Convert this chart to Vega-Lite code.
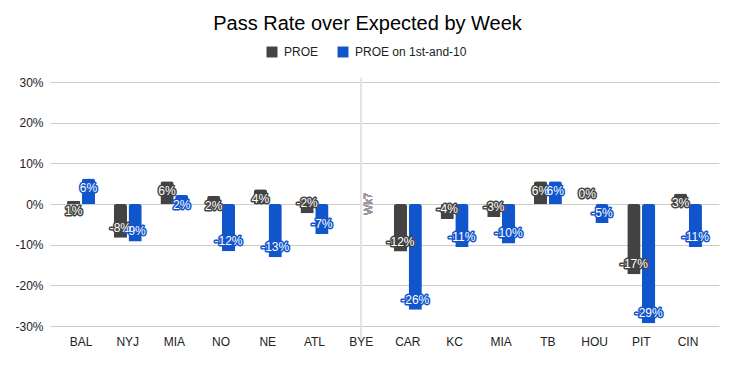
{
  "$schema": "https://vega.github.io/schema/vega-lite/v6.json",
  "width": 669,
  "height": 244,
  "autosize": {"type": "none"},
  "padding": {"left": 50, "top": 82, "right": 15, "bottom": 39},
  "config": {
    "font": "Liberation Sans",
    "view": {"stroke": null},
    "locale": {
      "number": {"decimal": ".", "thousands": ",", "grouping": [3], "currency": ["$", ""], "minus": "-"}
    }
  },
  "title": {
    "text": "Pass Rate over Expected by Week",
    "fontSize": 20,
    "fontWeight": "normal",
    "color": "#000000",
    "anchor": "middle",
    "dx": -17,
    "offset": 12
  },
  "data": {
    "values": [
      {"week": 1, "series": "PROE", "value": 0.008},
      {"week": 1, "series": "PROE on 1st-and-10", "value": 0.063},
      {"week": 2, "series": "PROE", "value": -0.083},
      {"week": 2, "series": "PROE on 1st-and-10", "value": -0.092},
      {"week": 3, "series": "PROE", "value": 0.056},
      {"week": 3, "series": "PROE on 1st-and-10", "value": 0.022},
      {"week": 4, "series": "PROE", "value": 0.02},
      {"week": 4, "series": "PROE on 1st-and-10", "value": -0.116},
      {"week": 5, "series": "PROE", "value": 0.036},
      {"week": 5, "series": "PROE on 1st-and-10", "value": -0.131},
      {"week": 6, "series": "PROE", "value": -0.023},
      {"week": 6, "series": "PROE on 1st-and-10", "value": -0.074},
      {"week": 8, "series": "PROE", "value": -0.117},
      {"week": 8, "series": "PROE on 1st-and-10", "value": -0.26},
      {"week": 9, "series": "PROE", "value": -0.037},
      {"week": 9, "series": "PROE on 1st-and-10", "value": -0.106},
      {"week": 10, "series": "PROE", "value": -0.032},
      {"week": 10, "series": "PROE on 1st-and-10", "value": -0.097},
      {"week": 11, "series": "PROE", "value": 0.056},
      {"week": 11, "series": "PROE on 1st-and-10", "value": 0.056},
      {"week": 12, "series": "PROE", "value": 0.0},
      {"week": 12, "series": "PROE on 1st-and-10", "value": -0.047},
      {"week": 13, "series": "PROE", "value": -0.173},
      {"week": 13, "series": "PROE on 1st-and-10", "value": -0.293},
      {"week": 14, "series": "PROE", "value": 0.026},
      {"week": 14, "series": "PROE on 1st-and-10", "value": -0.106}
    ]
  },
  "encoding": {
    "x": {
      "field": "week",
      "type": "ordinal",
      "scale": {"domain": [1,2,3,4,5,6,7,8,9,10,11,12,13,14], "paddingInner": 0.4, "paddingOuter": 0.365},
      "axis": {
        "title": null,
        "labelExpr": "['','BAL','NYJ','MIA','NO','NE','ATL','BYE','CAR','KC','MIA','TB','HOU','PIT','CIN'][datum.value]",
        "labelAngle": 0,
        "ticks": false,
        "domain": false,
        "labelPadding": 10,
        "labelFontSize": 12,
        "labelColor": "#222222",
        "grid": false
      }
    },
    "y": {
      "field": "value",
      "type": "quantitative",
      "scale": {"domain": [-0.3, 0.3], "nice": false, "zero": true},
      "axis": {
        "title": null,
        "format": ".0%",
        "values": [-0.3, -0.2, -0.1, 0, 0.1, 0.2, 0.3],
        "grid": true,
        "gridColor": "#cccccc",
        "domain": false,
        "ticks": false,
        "labelPadding": 7,
        "labelFontSize": 12,
        "labelColor": "#222222"
      }
    }
  },
  "layer": [
    {
      "mark": {"type": "rule", "color": "#e4e4e4", "strokeWidth": 1},
      "encoding": {
        "x": {"datum": 7},
        "y": {"datum": 0.31},
        "y2": {"datum": -0.33}
      }
    },
    {
      "mark": {"type": "bar", "cornerRadiusEnd": 2.5},
      "encoding": {
        "xOffset": {"field": "series", "type": "nominal", "scale": {"paddingInner": 0.1, "paddingOuter": 0}},
        "color": {
          "field": "series",
          "type": "nominal",
          "scale": {"domain": ["PROE", "PROE on 1st-and-10"], "range": ["#434343", "#1155cc"]},
          "legend": {
            "title": null,
            "orient": "none",
            "direction": "horizontal",
            "legendX": 216,
            "legendY": -36,
            "symbolType": "square",
            "symbolSize": 120,
            "symbolStrokeWidth": 0,
            "labelFontSize": 12,
            "labelColor": "#222222",
            "labelOffset": 6,
            "columnPadding": 18
          }
        }
      }
    },
    {
      "mark": {"type": "rule", "color": "#333333", "strokeWidth": 1},
      "encoding": {"y": {"datum": 0}}
    },
    {
      "transform": [{"filter": "datum.value > 0"}],
      "mark": {"type": "text", "dy": 10, "fontSize": 12, "strokeWidth": 3, "baseline": "middle", "strokeJoin": "round"},
      "encoding": {
        "xOffset": {"field": "series", "type": "nominal"},
        "text": {"field": "value", "type": "quantitative", "format": ".0%"},
        "color": {"field": "series", "type": "nominal"},
        "stroke": {"field": "series", "type": "nominal", "scale": {"domain": ["PROE", "PROE on 1st-and-10"], "range": ["#434343", "#1155cc"]}, "legend": null}
      }
    },
    {
      "transform": [{"filter": "datum.value > 0"}],
      "mark": {"type": "text", "dy": 10, "fontSize": 12, "baseline": "middle", "color": "#ffffff"},
      "encoding": {
        "xOffset": {"field": "series", "type": "nominal"},
        "text": {"field": "value", "type": "quantitative", "format": ".0%"}
      }
    },
    {
      "transform": [{"filter": "datum.value <= 0"}],
      "mark": {"type": "text", "dy": -10, "fontSize": 12, "strokeWidth": 3, "baseline": "middle", "strokeJoin": "round"},
      "encoding": {
        "xOffset": {"field": "series", "type": "nominal"},
        "text": {"field": "value", "type": "quantitative", "format": ".0%"},
        "color": {"field": "series", "type": "nominal"},
        "stroke": {"field": "series", "type": "nominal", "scale": {"domain": ["PROE", "PROE on 1st-and-10"], "range": ["#434343", "#1155cc"]}, "legend": null}
      }
    },
    {
      "transform": [{"filter": "datum.value <= 0"}],
      "mark": {"type": "text", "dy": -10, "fontSize": 12, "baseline": "middle", "color": "#ffffff"},
      "encoding": {
        "xOffset": {"field": "series", "type": "nominal"},
        "text": {"field": "value", "type": "quantitative", "format": ".0%"}
      }
    },
    {
      "mark": {"type": "text", "angle": 270, "dy": 8, "fontSize": 11, "color": "#999999", "baseline": "middle", "align": "center"},
      "encoding": {
        "x": {"datum": 7},
        "y": {"datum": 0},
        "text": {"value": "Wk7"}
      }
    }
  ]
}
